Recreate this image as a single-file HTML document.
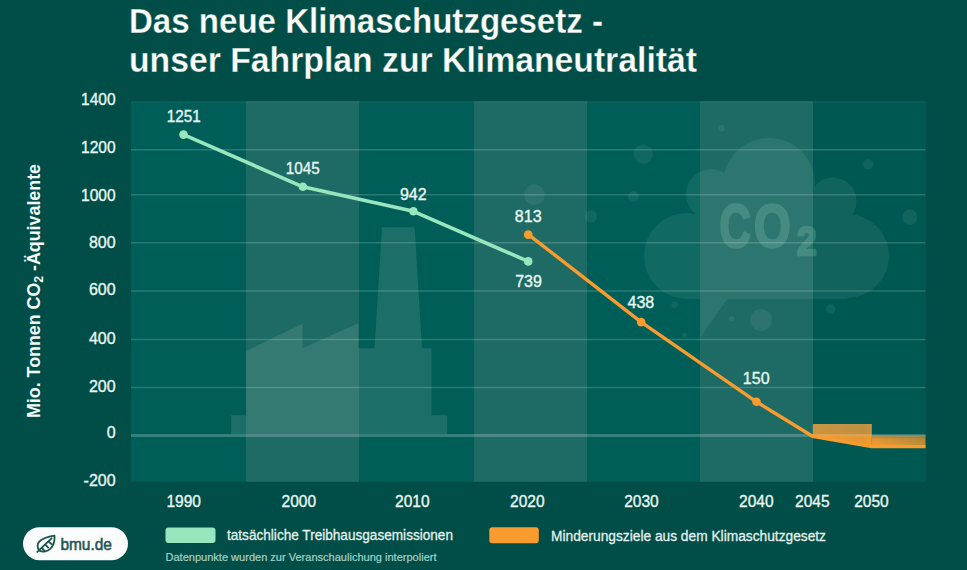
<!DOCTYPE html>
<html><head><meta charset="utf-8">
<style>
html,body{margin:0;padding:0;}
body{width:967px;height:570px;overflow:hidden;background:#014d47;font-family:"Liberation Sans",sans-serif;position:relative;}
svg{position:absolute;left:0;top:0;}
</style></head><body>
<svg width="967" height="570" viewBox="0 0 967 570">
  <defs>
    <linearGradient id="og1" gradientUnits="userSpaceOnUse" x1="0" y1="424" x2="0" y2="446">
      <stop offset="0" stop-color="#f6a445" stop-opacity="0.82"/>
      <stop offset="0.45" stop-color="#f39c38" stop-opacity="0.86"/>
      <stop offset="0.6" stop-color="#f89c2e" stop-opacity="1"/>
      <stop offset="1" stop-color="#f99e2c" stop-opacity="1"/>
    </linearGradient>
    <linearGradient id="og2" gradientUnits="userSpaceOnUse" x1="0" y1="435" x2="0" y2="447">
      <stop offset="0" stop-color="#f29a35" stop-opacity="0.5"/>
      <stop offset="0.3" stop-color="#f49b33" stop-opacity="0.9"/>
      <stop offset="1" stop-color="#f99e2c" stop-opacity="1"/>
    </linearGradient>
    <linearGradient id="hm" gradientUnits="userSpaceOnUse" x1="812" y1="0" x2="926" y2="0">
      <stop offset="0" stop-color="#fff"/>
      <stop offset="0.45" stop-color="#ececec"/>
      <stop offset="0.55" stop-color="#fff"/>
      <stop offset="1" stop-color="#c8c8c8"/>
    </linearGradient>
    <mask id="m1" maskUnits="userSpaceOnUse" x="800" y="400" width="140" height="60">
      <rect x="800" y="400" width="140" height="60" fill="url(#hm)"/>
    </mask>
  </defs>
  <!-- plot bg -->
  <rect x="131" y="101.3" width="794.8" height="380.4" fill="#005e58"/>
  <!-- light bands -->
  <g fill="#1e6b65">
    <rect x="246" y="101.3" width="113" height="380.4"/>
    <rect x="474" y="101.3" width="113" height="380.4"/>
    <rect x="700" y="101.3" width="113" height="380.4"/>
  </g>
  <rect x="813" y="101.3" width="112.8" height="380.4" fill="#000" fill-opacity="0.06"/>
  <!-- bubbles -->
  <g fill="#ffffff" fill-opacity="0.065">
    <circle cx="534.4" cy="194.8" r="10.3"/>
    <circle cx="643.3" cy="154" r="9.6"/>
    <circle cx="633.4" cy="196.5" r="5.4"/>
    <circle cx="590.9" cy="216.4" r="6.1"/>
    <circle cx="721.5" cy="128.3" r="3.2"/>
    <circle cx="868" cy="164.2" r="5.2"/>
    <circle cx="909.9" cy="217.3" r="7.7"/>
    <circle cx="674.7" cy="304.8" r="3.3"/>
    <circle cx="731.6" cy="318.9" r="2.6"/>
    <circle cx="761" cy="320" r="10.9"/>
    <circle cx="830.7" cy="309.1" r="4.8"/>
    <circle cx="684.5" cy="335.2" r="2.5"/>
  </g>
  <!-- cloud -->
  <g fill="#ffffff" opacity="0.065">
    <path d="M700 298 L728 298 L700 337.8 Z"/>
    <circle cx="687" cy="256" r="43"/>
    <circle cx="847" cy="256" r="42"/>
    <rect x="687" y="225" width="160" height="74"/>
    <circle cx="711" cy="194" r="25"/>
    <circle cx="769" cy="184" r="46"/>
    <circle cx="833" cy="201" r="23.5"/>
    <rect x="705" y="195" width="135" height="40"/>
  </g>
  <!-- CO2 -->
  <g opacity="0.2" fill="#a8e6cf" stroke="#a8e6cf" stroke-width="2.6" stroke-linejoin="round" font-family="Liberation Sans" font-weight="bold">
    <text transform="translate(719.5 247.2) scale(0.70 1)" font-size="62">C</text>
    <text transform="translate(754 247.2) scale(0.76 1)" font-size="62">O</text>
    <text transform="translate(797 255.4) scale(0.86 1)" font-size="41.5">2</text>
  </g>
  <!-- factory -->
  <path fill="#c8d2cf" fill-opacity="0.14" d="M231.2 434 L231.2 415.3 L246.2 415.3 L246.2 351 L302.5 323.7 L302.5 348.3 L358.3 323.2 L358.3 348.3 L374.5 348.3 L382 227.3 L414.6 227.3 L422 348.3 L431.5 348.3 L431.5 415.3 L447.2 415.3 L447.2 434 Z"/>
  <!-- gridlines -->
  <g stroke="#ffffff" stroke-opacity="0.17" stroke-width="1.5">
    <line x1="131" y1="102" x2="925.5" y2="102" stroke-opacity="0.05"/>
    <line x1="131" y1="149.8" x2="925.5" y2="149.8"/>
    <line x1="131" y1="194.8" x2="925.5" y2="194.8"/>
    <line x1="131" y1="242.7" x2="925.5" y2="242.7"/>
    <line x1="131" y1="291" x2="925.5" y2="291"/>
    <line x1="131" y1="339.5" x2="925.5" y2="339.5"/>
    <line x1="131" y1="387.5" x2="925.5" y2="387.5"/>
  </g>
  <!-- zero line -->
  <line x1="131" y1="435.5" x2="925.5" y2="435.5" stroke="#ffffff" stroke-opacity="0.21" stroke-width="3"/>
  <!-- orange area 2045-2050 -->
  <g mask="url(#m1)">
    <path d="M812.8 424 L871.8 424 L871.8 446.5 L812.8 436.5 Z" fill="url(#og1)"/>
    <path d="M871.8 435 L925.5 435 L925.5 447.5 L871.8 447.5 Z" fill="url(#og2)"/>
  </g>
  <line x1="812.8" y1="435.3" x2="871.8" y2="435.3" stroke="#ffffff" stroke-opacity="0.12" stroke-width="2"/>
  <!-- green line -->
  <polyline fill="none" stroke="#98e6bd" stroke-width="3.6" stroke-linejoin="round" points="183.5,134.6 302.9,186.8 413.4,211.3 528.2,261.4"/>
  <g fill="#98e6bd">
    <circle cx="183.5" cy="134.6" r="4.3"/>
    <circle cx="302.9" cy="186.8" r="4.3"/>
    <circle cx="413.4" cy="211.3" r="4.3"/>
    <circle cx="528.2" cy="261.4" r="4.3"/>
  </g>
  <!-- orange line -->
  <polyline fill="none" stroke="#f99b2e" stroke-width="3.4" stroke-linejoin="round" points="528.5,234.6 641.2,322.1 756.5,401.8 812.5,436.3 871.8,446.6 925.5,446.6"/>
  <g fill="#f99b2e">
    <circle cx="528.2" cy="234.6" r="4.3"/>
    <circle cx="641.2" cy="322.1" r="4.3"/>
    <circle cx="756.5" cy="401.8" r="4.3"/>
  </g>
  <!-- data labels -->
  <g fill="#e8f7f1" stroke="#e8f7f1" stroke-width="0.35" font-family="Liberation Sans" font-size="16" text-anchor="middle">
    <text x="183.8" y="121.8" textLength="34" lengthAdjust="spacingAndGlyphs">1251</text>
    <text x="302.8" y="173.9" textLength="34" lengthAdjust="spacingAndGlyphs">1045</text>
    <text x="413.3" y="199.9">942</text>
    <text x="528.2" y="221.9">813</text>
    <text x="528.5" y="287.2">739</text>
    <text x="640.9" y="308">438</text>
    <text x="756.2" y="383.7">150</text>
  </g>
  <!-- y-axis labels -->
  <g fill="#e8f7f1" stroke="#e8f7f1" stroke-width="0.35" font-family="Liberation Sans" font-size="16" text-anchor="end">
    <text x="115.6" y="105" textLength="34.5" lengthAdjust="spacingAndGlyphs">1400</text>
    <text x="115.6" y="152.9" textLength="34.5" lengthAdjust="spacingAndGlyphs">1200</text>
    <text x="115.6" y="201" textLength="34.5" lengthAdjust="spacingAndGlyphs">1000</text>
    <text x="115.6" y="247.8">800</text>
    <text x="115.6" y="295.4">600</text>
    <text x="115.6" y="343.9">400</text>
    <text x="115.6" y="391.6">200</text>
    <text x="115.6" y="438.2">0</text>
    <text x="115.6" y="485.7">-200</text>
  </g>
  <!-- x-axis labels -->
  <g fill="#e8f7f1" stroke="#e8f7f1" stroke-width="0.35" font-family="Liberation Sans" font-size="16" text-anchor="middle">
    <text x="183.7" y="507.3" textLength="34.5" lengthAdjust="spacingAndGlyphs">1990</text>
    <text x="298.8" y="507.3" textLength="34.5" lengthAdjust="spacingAndGlyphs">2000</text>
    <text x="412.3" y="507.3" textLength="34.5" lengthAdjust="spacingAndGlyphs">2010</text>
    <text x="527.3" y="507.3" textLength="34.5" lengthAdjust="spacingAndGlyphs">2020</text>
    <text x="641.4" y="507.3" textLength="34.5" lengthAdjust="spacingAndGlyphs">2030</text>
    <text x="756.3" y="507.3" textLength="34.5" lengthAdjust="spacingAndGlyphs">2040</text>
    <text x="812.3" y="507.3" textLength="34.5" lengthAdjust="spacingAndGlyphs">2045</text>
    <text x="871.4" y="507.3" textLength="34.5" lengthAdjust="spacingAndGlyphs">2050</text>
  </g>
  <!-- y axis title -->
  <text transform="translate(39.5 418) rotate(-90)" fill="#f4faf8" font-family="Liberation Sans" font-weight="bold" font-size="17.5" textLength="254" lengthAdjust="spacingAndGlyphs">Mio. Tonnen CO<tspan font-size="12" dy="3.5">2</tspan><tspan dy="-3.5"> -Äquivalente</tspan></text>
  <!-- legend -->
  <rect x="165.5" y="527.6" width="50" height="15.5" rx="3" fill="#98e6bd"/>
  <rect x="489.3" y="527.3" width="49.5" height="16" rx="3" fill="#f99b2e"/>
  <text x="227" y="540.4" fill="#e3f2ed" stroke="#e3f2ed" stroke-width="0.3" font-family="Liberation Sans" font-size="15" textLength="226" lengthAdjust="spacingAndGlyphs">tatsächliche Treibhausgasemissionen</text>
  <text x="551" y="541" fill="#e3f2ed" stroke="#e3f2ed" stroke-width="0.3" font-family="Liberation Sans" font-size="15" textLength="275" lengthAdjust="spacingAndGlyphs">Minderungsziele aus dem Klimaschutzgesetz</text>
  <text x="165.5" y="560.6" fill="#a6d3c8" stroke="#a6d3c8" stroke-width="0.2" font-family="Liberation Sans" font-size="11.8" textLength="271" lengthAdjust="spacingAndGlyphs">Datenpunkte wurden zur Veranschaulichung interpoliert</text>
  <!-- logo -->
  <rect x="23" y="527.2" width="105" height="33" rx="16.5" fill="#fbfcfc"/>
  <g transform="translate(33 531.3)" fill="none" stroke="#1e5650" stroke-width="1.85" stroke-linecap="round" stroke-linejoin="round">
    <path d="M6.6 19.3 C4 17 3.8 12.5 6.6 10 C9.5 7 14 5.6 21.5 4.4 C21.9 10 20.5 14.5 17 17.8 C13.5 20.8 9 20.8 6.6 19.3 Z"/>
    <path d="M4.3 20.6 L18.6 7"/>
    <path d="M8.9 16.6 L11.2 19.4" stroke-width="1.9"/>
    <path d="M12.3 13.4 L15.2 16.3" stroke-width="1.9"/>
    <path d="M15.6 10.2 L18.6 12.8" stroke-width="1.9"/>
  </g>
  <text x="60.4" y="549.5" fill="#1e5650" stroke="#1e5650" stroke-width="0.55" font-family="Liberation Sans" font-size="16.2" textLength="51.5" lengthAdjust="spacingAndGlyphs">bmu.de</text>
  <!-- title -->
  <g fill="#fbfdfc" stroke="#014d47" stroke-width="0.3" font-family="Liberation Sans" font-weight="bold" font-size="35.5">
    <text x="129" y="32.6" textLength="474" lengthAdjust="spacingAndGlyphs">Das neue Klimaschutzgesetz -</text>
    <text x="129" y="71.9" textLength="568" lengthAdjust="spacingAndGlyphs">unser Fahrplan zur Klimaneutralität</text>
  </g>
</svg>
</body></html>
